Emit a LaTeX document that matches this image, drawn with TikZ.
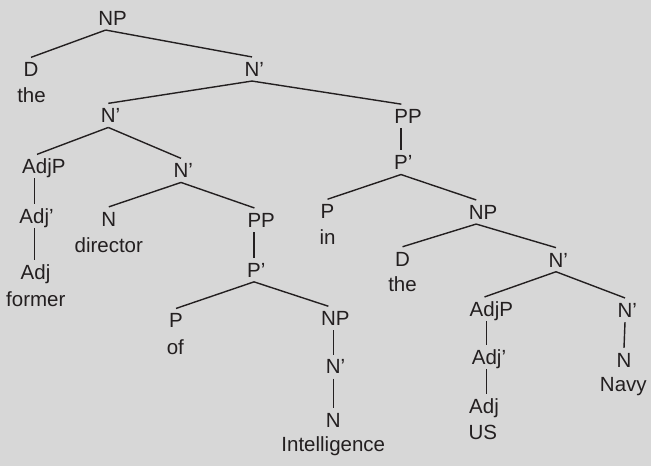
\documentclass[tikz,border=0pt]{standalone}
\usepackage{fontspec}
\setmainfont{Liberation Sans}
\definecolor{fondo}{RGB}{215,215,215}
\definecolor{tinta}{RGB}{35,31,32}
\tikzset{
	cat/.style={inner xsep=0pt, inner ysep=4pt, text height=14.7pt, text depth=0pt},
	pal/.style={inner sep=0pt, anchor=base},
}
\begin{document}
\begin{tikzpicture}[x=1pt,y=-1pt,font=\fontsize{20.5}{24}\selectfont,color=tinta,line width=1.4pt]
		%Fondo
		\fill[fondo] (0,0) rectangle (651,466);
		\useasboundingbox (0,0) rectangle (651,466);
		%Raiz%
		\node[cat](np)at (105.7,18) {N\rlap{P}};
		\node[cat](d)at (31,69.4) {D};
		\node[pal](the)at (31.5,102) {the};
		\node[cat](nb)at (252,69) {N\rlap{'}};
		%Rama izquierda%
		\node[cat](nbb)at (108.3,115.4) {N\rlap{'}};
		\node[cat](adjp)at (37,166.4) {Adj\rlap{P}};
		\node[cat](adjb)at (34.3,215.7) {Adj\rlap{'}};
		\node[cat](adj)at (35.5,272.4) {Adj};
		\node[pal](former)at (35.8,306.4) {former};
		\node[cat](nbbb)at (181,170.4) {N\rlap{'}};
		\node[cat](n)at (108.8,218.9) {N};
		\node[pal](director)at (108.8,252.3) {director};
		\node[cat](pp)at (254.4,220) {P\rlap{P}};
		\node[cat](pb)at (254,269.8) {P\rlap{'}};
		\node[cat](p)at (176,320.5) {P};
		\node[pal](of)at (175.3,354.5) {of};
		\node[cat](npi)at (328.4,318.3) {N\rlap{P}};
		\node[cat](nbi)at (333.3,366.6) {N\rlap{'}};
		\node[cat](ni)at (333.3,420) {N};
		\node[pal](intel)at (333.3,451.4) {Intelligence};
		%Rama derecha%
		\node[cat](ppr)at (401.3,116.2) {P\rlap{P}};
		\node[cat](pbr)at (401,162.5) {P\rlap{'}};
		\node[cat](pr)at (327.5,211.3) {P};
		\node[pal](in)at (327.5,244.3) {in};
		\node[cat](npr)at (476.2,212) {N\rlap{P}};
		\node[cat](dr)at (402.5,258.8) {D};
		\node[pal](ther)at (402.5,291.6) {the};
		\node[cat](nbr)at (556,259.7) {N\rlap{'}};
		\node[cat](adjpr)at (484.5,309) {Adj\rlap{P}};
		\node[cat](adjbr)at (486.7,356.7) {Adj\rlap{'}};
		\node[cat](adjr)at (484,405.7) {Adj};
		\node[pal](us)at (482.8,439.5) {US};
		\node[cat](nbrr)at (625,310) {N\rlap{'}};
		\node[cat](nrr)at (624,360) {N};
		\node[pal](navy)at (623.3,391.4) {Navy};
		%Ramas%
		\draw (np.south) -- (d.north);
		\draw (np.south) -- (nb.north);
		\draw (nb.south) -- (nbb.north);
		\draw (nb.south) -- (ppr.north);
		\draw (nbb.south) -- (adjp.north);
		\draw (nbb.south) -- (nbbb.north);
		\draw (adjp.south -| adjb) -- (adjb.north);
		\draw (adjb.south) -- (adjb.south |- adj.north);
		\draw (nbbb.south) -- (n.north);
		\draw (nbbb.south) -- (pp.north);
		\draw (pp.south -| pb) -- (pb.north);
		\draw (pb.south) -- (p.north);
		\draw (pb.south) -- (npi.north);
		\draw (npi.south -| nbi) -- (nbi.north);
		\draw (nbi.south) -- (ni.north);
		\draw (ppr.south -| pbr) -- (pbr.north);
		\draw (pbr.south) -- (pr.north);
		\draw (pbr.south) -- (npr.north);
		\draw (npr.south) -- (dr.north);
		\draw (npr.south) -- (nbr.north);
		\draw (nbr.south) -- (adjpr.north);
		\draw (nbr.south) -- (nbrr.north);
		\draw (adjpr.south -| adjbr) -- (adjbr.north);
		\draw (adjbr.south) -- (adjbr.south |- adjr.north);
		\draw (nbrr.south) -- (nrr.north);
	\end{tikzpicture}
\end{document}
